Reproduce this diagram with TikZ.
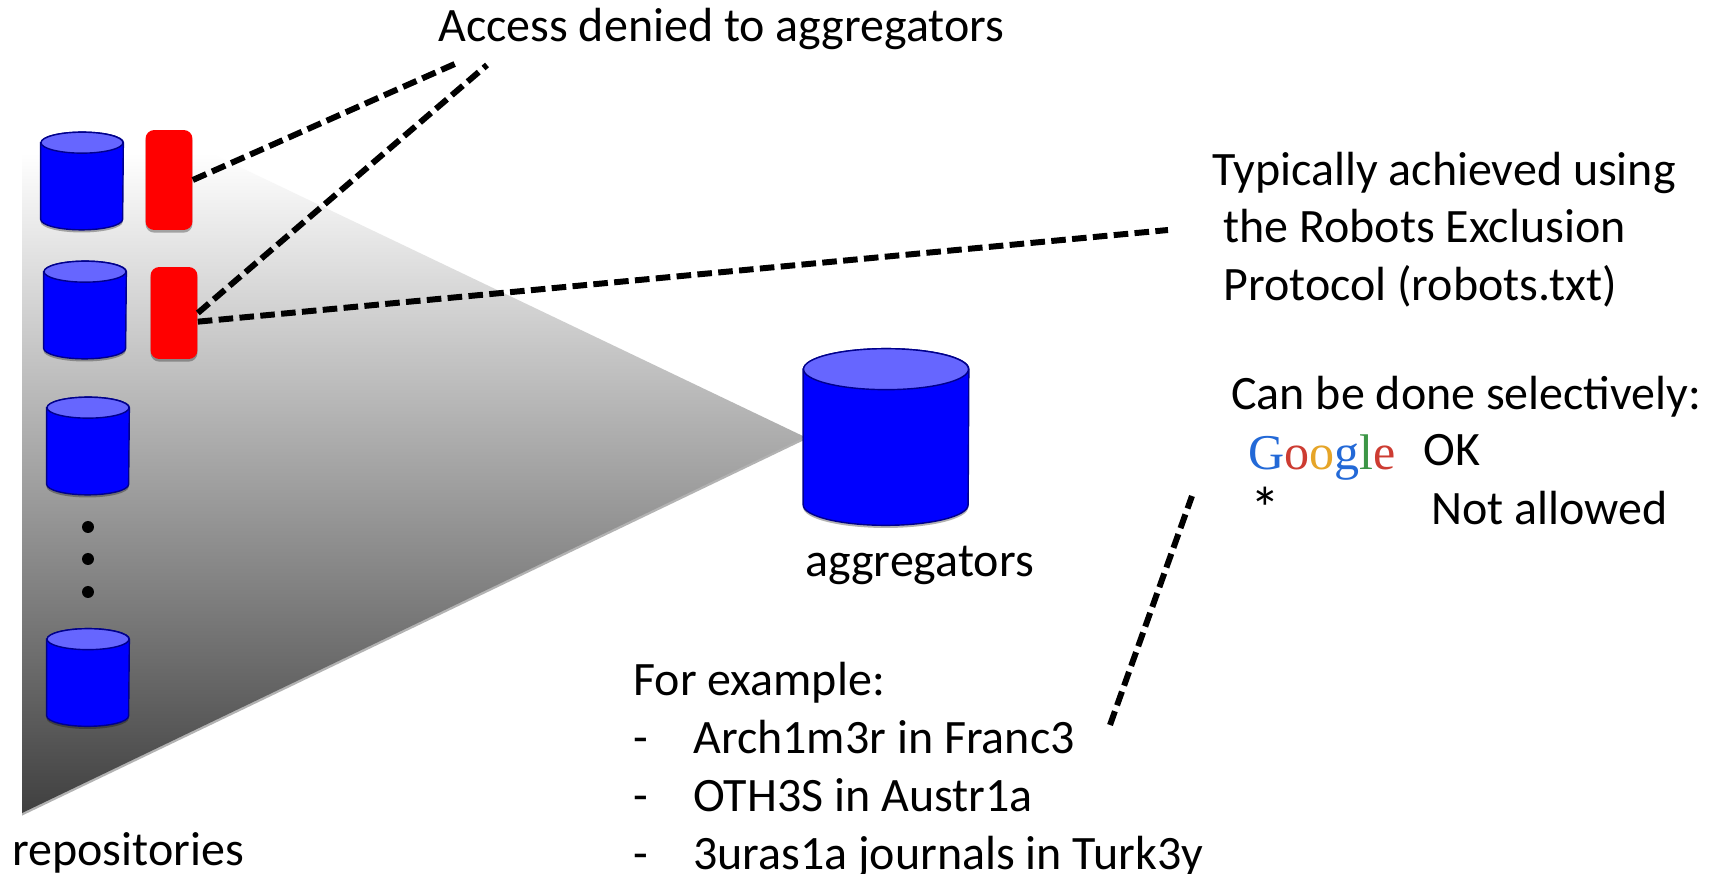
\documentclass[tikz,border=0pt]{standalone}
\usepackage{fontspec}
\setmainfont{Carlito}
\newfontfamily\logofont{Liberation Serif}
\usetikzlibrary{shadows}
\definecolor{gblue}{RGB}{35,105,215}
\definecolor{gred}{RGB}{205,60,50}
\definecolor{gyellow}{RGB}{230,165,40}
\definecolor{ggreen}{RGB}{60,150,70}
\pgfdeclareverticalshading{repofade}{100bp}{color(0bp)=(black!75); color(25bp)=(black!75); color(69bp)=(white); color(100bp)=(white)}
\tikzset{
  softshadow/.style={drop shadow={shadow xshift=0pt,shadow yshift=-1.5pt,fill=black,opacity=0.3}},
  drumline/.style={draw=blue!55!black,line width=0.8pt},
  denied/.style={rectangle,rounded corners=5pt,fill=red,minimum width=0.94cm,inner sep=0pt,softshadow},
  dotmark/.style={circle,fill=black,minimum size=0.24cm,inner sep=0pt},
  label/.style={anchor=base west,inner sep=0pt,font=\fontsize{27.3}{32}\selectfont},
  logo/.style={anchor=base west,inner sep=0pt,font=\logofont\fontsize{28.5}{32}\selectfont},
  callout/.style={line width=3.4pt,dash pattern=on 8.3pt off 3.6pt}
}
% name, position, width, height, end radius (cm)
\newcommand{\drum}[5]{
  \node[minimum width=#3cm,minimum height=#4cm,inner sep=0pt] (#1) at (#2) {};
  \draw[drumline,fill=blue,softshadow] ([yshift=-#5cm]#1.north west) -- ([yshift=#5cm]#1.south west)
    arc[start angle=180,end angle=360,x radius=0.5*#3cm,y radius=#5cm] -- ([yshift=-#5cm]#1.north east)
    arc[start angle=0,end angle=180,x radius=0.5*#3cm,y radius=#5cm] -- cycle;
  \draw[drumline,fill=blue!60] ([yshift=-#5cm]#1.north) ellipse[x radius=0.5*#3cm,y radius=#5cm];
}
\begin{document}
\begin{tikzpicture}[x=0.02cm,y=-0.02cm]
\useasboundingbox (0,0) rectangle (1715,874);
\fill[white] (0,0) rectangle (1715,874);
\shade[shading=repofade,softshadow] (22,63) -- (805,437) -- (22,813) -- cycle;
\drum{repoa}{82,181}{1.64}{1.94}{0.21}
\drum{repob}{85,310}{1.64}{1.94}{0.21}
\drum{repoc}{88,446}{1.64}{1.94}{0.21}
\drum{repod}{88,677.5}{1.64}{1.94}{0.21}
\drum{hub}{886,437}{3.3}{3.52}{0.41}
\node[denied,minimum height=2cm] (reda) at (169,180) {};
\node[denied,minimum height=1.84cm] (redb) at (174,313) {};
\foreach \y [count=\i] in {527,559,592} \node[dotmark] (dot\i) at (88,\y) {};
\node[label] (denytext) at (438,42) {Access denied to aggregators};
\node[label] (typa) at (1212,186) {Typically achieved using};
\node[label] (typb) at (1223,243) {the Robots Exclusion};
\node[label] (typc) at (1223,301) {Protocol (robots.txt)};
\node[label] (cantext) at (1231,410) {Can be done selectively:};
\node[logo] (google) at (1248,470) {\textcolor{gblue}{G}\textcolor{gred}{o}\textcolor{gyellow}{o}\textcolor{gblue}{g}\textcolor{ggreen}{l}\textcolor{gred}{e}};
\node[label] (oktext) at (1423,466) {OK};
\node[label,font=\fontsize{34}{36}\selectfont] (star) at (1250,530) {*};
\node[label] (notok) at (1431,525) {Not allowed};
\node[label] (hubtext) at (805,577) {aggregators};
\node[label] (exhead) at (633,696) {For example:};
\foreach \y/\t [count=\i] in {753/Arch1m3r in Franc3,811/OTH3S in Austr1a,869/3uras1a journals in Turk3y} {
  \node[label] (dash\i) at (633,\y) {-};
  \node[label] (ex\i) at (693,\y) {\t};
}
\node[label] (repotext) at (12,865) {repositories};
\coordinate (enda) at (457,63);
\coordinate (endb) at (487,65);
\coordinate (endc) at (1168,230);
\coordinate (endd) at (1192,496);
\coordinate (endf) at (1110,725);
\draw[callout] (reda.east) -- (enda);
\draw[callout] (redb.east) -- (endb);
\draw[callout] (redb.-20) -- (endc);
\draw[callout] (endf) -- (endd);
\end{tikzpicture}
\end{document}
